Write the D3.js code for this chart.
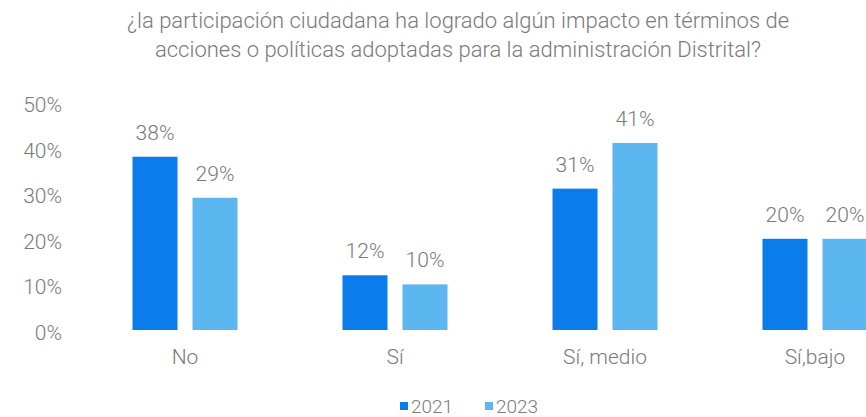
<!DOCTYPE html>
<html>
<head>
<meta charset="utf-8">
<script src="https://cdn.jsdelivr.net/npm/d3@7"></script>
<style>
  body { margin: 0; background: #fff; }
  svg text { font-family: Roboto, "Open Sans", sans-serif; font-weight: 300; fill: #7a7a7a; }
</style>
</head>
<body>
<svg id="chart" width="866" height="417"></svg>
<script>
const titulo = [
    "¿la participación ciudadana ha logrado algún impacto en términos de",
    "acciones o políticas adoptadas para la administración Distrital?"
]
const categorias = ["No", "Sí", "Sí, medio", "Sí,bajo"]
const anos = ["2021", "2023"]
const valores2021 = [38, 12, 31, 20]
const valores2023 = [29, 10, 41, 20]
const ticksY = [0, 10, 20, 30, 40, 50]

const cores = {"2021": "#0a7ceb", "2023": "#5cb6f0"}

const dados = categorias.map((c, i) => ({
    name: c,
    valores: [{ano: "2021", value: valores2021[i]}, {ano: "2023", value: valores2023[i]}]
}))

const svg = d3.select("#chart")

// escalas
const x0 = d3.scaleBand()
    .domain(categorias)
    .range([80, 920])
    .paddingInner(0.5)
    .paddingOuter(0.25)

const x1 = d3.scaleBand()
    .domain(anos)
    .range([0, x0.bandwidth()])
    .paddingInner(0.25)

const y = d3.scaleLinear()
    .domain([0, 50])
    .range([330, 102])

// titulo
svg.append("g")
    .selectAll("text")
    .data(titulo)
    .enter()
    .append("text")
        .attr("x", 458)
        .attr("y", (d, i) => 28 + i * 29)
        .attr("text-anchor", "middle")
        .style("font-size", "22px")
        .text(d => d)

// eixo y (so os textos)
const eixoY = svg.append("g")
    .attr("transform", "translate(62,0)")
    .call(d3.axisLeft(y)
        .tickValues(ticksY)
        .tickSize(0)
        .tickPadding(0)
        .tickFormat(d => d + "%")
    )
eixoY.select(".domain").remove()
eixoY.selectAll("text")
    .style("font-size", "21px")
    .attr("dy", "0.45em")

// barras
const grupos = svg.selectAll(".grupo")
    .data(dados)
    .enter()
    .append("g")
        .attr("class", "grupo")
        .attr("transform", d => `translate(${x0(d.name)},0)`)

grupos.selectAll("rect")
    .data(d => d.valores)
    .enter()
    .append("rect")
        .attr("x", d => x1(d.ano))
        .attr("y", d => y(d.value))
        .attr("width", x1.bandwidth())
        .attr("height", d => y(0) - y(d.value))
        .attr("fill", d => cores[d.ano])

// valores
grupos.selectAll(".valor")
    .data(d => d.valores)
    .enter()
    .append("text")
        .attr("class", "valor")
        .attr("x", d => x1(d.ano) + x1.bandwidth() / 2)
        .attr("y", d => y(d.value) - 17)
        .attr("text-anchor", "middle")
        .style("font-size", "21px")
        .text(d => d.value + "%")

// eixo x (categorias)
const eixoX = svg.append("g")
    .attr("transform", "translate(0,330)")
    .call(d3.axisBottom(x0).tickSize(0).tickPadding(19))
eixoX.select(".domain").remove()
eixoX.selectAll("text")
    .style("font-size", "21px")

// legenda
const legenda = svg.append("g")
    .attr("transform", "translate(400,0)")
    .selectAll("g")
    .data(anos)
    .enter()
    .append("g")
        .attr("transform", (d, i) => `translate(${i * 85},0)`)

legenda.append("rect")
    .attr("x", 0)
    .attr("y", 402)
    .attr("width", 8)
    .attr("height", 8)
    .attr("fill", d => cores[d])

legenda.append("text")
    .attr("x", 11)
    .attr("y", 413)
    .style("font-size", "19px")
    .text(d => d)
</script>
</body>
</html>
